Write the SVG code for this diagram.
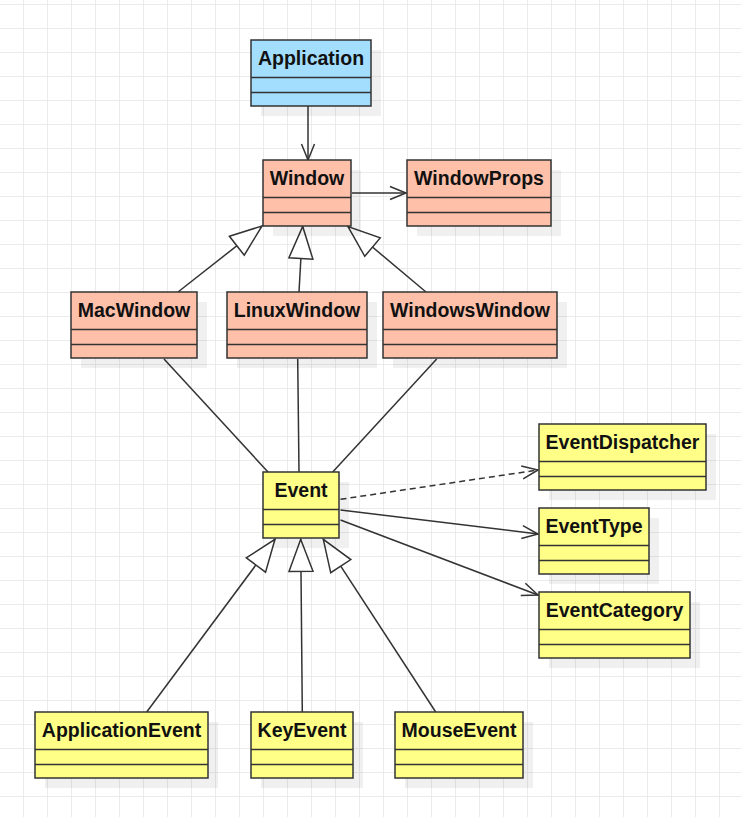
<svg xmlns="http://www.w3.org/2000/svg" width="741" height="817" viewBox="0 0 741 817">
<defs>
<pattern id="grid" x="23" y="4" width="24" height="24" patternUnits="userSpaceOnUse">
<rect x="0" y="0" width="1" height="24" fill="#ebebeb"/>
<rect x="0" y="0" width="24" height="1" fill="#ebebeb"/>
</pattern>
<marker id="open" markerUnits="userSpaceOnUse" markerWidth="20" markerHeight="16" viewBox="0 0 20 16" refX="17" refY="8" orient="auto">
<path d="M1,1.5 L17,8 L1,14.5" fill="none" stroke="#333" stroke-width="1.5"/>
</marker>
<marker id="tri" markerUnits="userSpaceOnUse" markerWidth="36" markerHeight="28" viewBox="-2 -2 36 28" refX="32" refY="12" orient="auto">
<path d="M0,0 L32,12 L0,24 Z" fill="#fff" stroke="#333" stroke-width="1.5" stroke-linejoin="miter"/>
</marker>
</defs>
<style>
.shadow{fill:#000;fill-opacity:0.06}
.box{stroke:#333;stroke-width:1.5}
.blue{fill:#a3deff}
.salmon{fill:#ffc0aa}
.yellow{fill:#ffff88}
.div{stroke:#333;stroke-width:1.5}
.t{font-family:"Liberation Sans",Arial,sans-serif;font-weight:bold;font-size:19.5px;fill:#111;text-anchor:middle}
.c{fill:none;stroke:#333;stroke-width:1.5}
.gen{marker-end:url(#tri)}
.arr{marker-end:url(#open)}
.dash{stroke-dasharray:6 4}
</style>
<rect width="741" height="817" fill="#fff"/>
<rect width="741" height="817" fill="url(#grid)"/>

<g id="connectors">
<path class="c arr" d="M308,106 L308,160"/>
<path class="c arr" d="M352,193 L406,193"/>
<path class="c gen" d="M178,292 L262,226"/>
<path class="c gen" d="M299,292 L302.7,226.5"/>
<path class="c gen" d="M426,292 L348,226.5"/>
<path class="c" d="M164,359 L268,472"/>
<path class="c" d="M297.7,359 L299,472"/>
<path class="c" d="M436.7,359 L332.7,472"/>
<path class="c arr dash" d="M340.5,499.3 L538,470"/>
<path class="c arr" d="M340.5,510 L538,534"/>
<path class="c arr" d="M340.5,520 L538,595"/>
<path class="c gen" d="M146.7,712 L275,539.3"/>
<path class="c gen" d="M302.3,712 L300.7,539.3"/>
<path class="c gen" d="M435.7,712 L323.3,539.3"/>
</g>

<g id="Application">
<rect class="shadow" x="261" y="50" width="120" height="66"/>
<rect class="box blue" x="251" y="40" width="120" height="66"/>
<path class="div" d="M251,77.5 H371 M251,92.5 H371"/>
<text class="t" x="311" y="65">Application</text>
</g>
<g id="Window">
<rect class="shadow" x="273" y="170" width="88" height="66"/>
<rect class="box salmon" x="263" y="160" width="88" height="66"/>
<path class="div" d="M263,197.5 H351 M263,212.5 H351"/>
<text class="t" x="307" y="185">Window</text>
</g>
<g id="WindowProps">
<rect class="shadow" x="417" y="170" width="144" height="66"/>
<rect class="box salmon" x="407" y="160" width="144" height="66"/>
<path class="div" d="M407,197.5 H551 M407,212.5 H551"/>
<text class="t" x="479" y="185">WindowProps</text>
</g>
<g id="MacWindow">
<rect class="shadow" x="81" y="302" width="126" height="66"/>
<rect class="box salmon" x="71" y="292" width="126" height="66"/>
<path class="div" d="M71,329.5 H197 M71,344.5 H197"/>
<text class="t" x="134" y="317">MacWindow</text>
</g>
<g id="LinuxWindow">
<rect class="shadow" x="237" y="302" width="140" height="66"/>
<rect class="box salmon" x="227" y="292" width="140" height="66"/>
<path class="div" d="M227,329.5 H367 M227,344.5 H367"/>
<text class="t" x="297" y="317">LinuxWindow</text>
</g>
<g id="WindowsWindow">
<rect class="shadow" x="393" y="302" width="174" height="66"/>
<rect class="box salmon" x="383" y="292" width="174" height="66"/>
<path class="div" d="M383,329.5 H557 M383,344.5 H557"/>
<text class="t" x="470" y="317">WindowsWindow</text>
</g>
<g id="Event">
<rect class="shadow" x="273" y="482" width="76" height="66"/>
<rect class="box yellow" x="263" y="472" width="76" height="66"/>
<path class="div" d="M263,509.5 H339 M263,524.5 H339"/>
<text class="t" x="301" y="497">Event</text>
</g>
<g id="EventDispatcher">
<rect class="shadow" x="549" y="434" width="167" height="66"/>
<rect class="box yellow" x="539" y="424" width="167" height="66"/>
<path class="div" d="M539,461.5 H706 M539,476.5 H706"/>
<text class="t" x="622.5" y="449">EventDispatcher</text>
</g>
<g id="EventType">
<rect class="shadow" x="549" y="518" width="110" height="66"/>
<rect class="box yellow" x="539" y="508" width="110" height="66"/>
<path class="div" d="M539,545.5 H649 M539,560.5 H649"/>
<text class="t" x="594" y="533">EventType</text>
</g>
<g id="EventCategory">
<rect class="shadow" x="549" y="602" width="151" height="66"/>
<rect class="box yellow" x="539" y="592" width="151" height="66"/>
<path class="div" d="M539,629.5 H690 M539,644.5 H690"/>
<text class="t" x="614.5" y="617">EventCategory</text>
</g>
<g id="ApplicationEvent">
<rect class="shadow" x="45" y="722" width="173" height="66"/>
<rect class="box yellow" x="35" y="712" width="173" height="66"/>
<path class="div" d="M35,749.5 H208 M35,764.5 H208"/>
<text class="t" x="121.5" y="737">ApplicationEvent</text>
</g>
<g id="KeyEvent">
<rect class="shadow" x="261" y="722" width="102" height="66"/>
<rect class="box yellow" x="251" y="712" width="102" height="66"/>
<path class="div" d="M251,749.5 H353 M251,764.5 H353"/>
<text class="t" x="302" y="737">KeyEvent</text>
</g>
<g id="MouseEvent">
<rect class="shadow" x="405" y="722" width="128" height="66"/>
<rect class="box yellow" x="395" y="712" width="128" height="66"/>
<path class="div" d="M395,749.5 H523 M395,764.5 H523"/>
<text class="t" x="459" y="737">MouseEvent</text>
</g>
</svg>
